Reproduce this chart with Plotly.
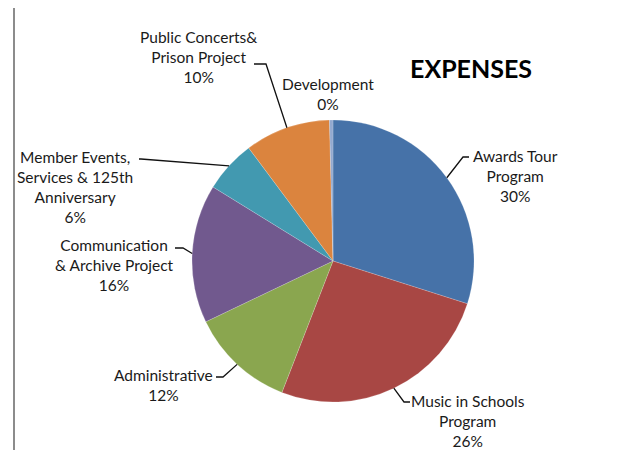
import math
import plotly.graph_objects as go

# ---- data ----
categories = [
    "Awards Tour<br>Program",
    "Music in Schools<br>Program",
    "Administrative",
    "Communication<br>& Archive Project",
    "Member Events,<br>Services & 125th<br>Anniversary",
    "Public Concerts&<br>Prison Project",
    "Development",
]
values = [29.9, 26.0, 12.0, 15.9, 6.0, 9.8, 0.4]
colors = ["#4672A8", "#A84744", "#8AA64F", "#71598E", "#4299B0", "#DB843E", "#93A9CF"]
title_text = "EXPENSES"

# ---- layout constants (pixels, in page coordinates) ----
W, H = 644, 450
OX, OY = 8, 8          # page body margin offset
CX, CY, R = 333, 261, 141
FONT = "Lato"

def px(x):
    return (x - OX) / W

def py(y):
    return 1 - (y - OY) / H

fig = go.Figure(go.Pie(
    labels=categories,
    values=values,
    sort=False,
    direction="clockwise",
    rotation=0,
    textinfo="none",
    hoverinfo="label+percent",
    marker=dict(colors=colors, line=dict(color="rgba(255,255,255,0.35)", width=0.5)),
    domain=dict(x=[px(CX - R), px(CX + R)], y=[py(CY + R), py(CY - R)]),
    showlegend=False,
))

# label placement: (text center x, text center y, leader start, leader elbow)
label_layout = [
    (515, 176, (469, 157), (463, 157)),
    (468, 421, (410, 402), (404, 402)),
    (163, 385, (216, 377), (223, 377)),
    (114, 265, (175, 248), (183, 248)),
    (75, 187, (139, 159), (141, 159)),
    (199, 57, (254, 64), (266, 64)),
    (328, 94, None, None),
]

total = sum(values)
cum = 0.0
annotations = []
shapes = []
for cat, v, (tx, ty, start, elbow) in zip(categories, values, label_layout):
    mid = (cum + v / 2) / total * 2 * math.pi
    cum += v
    ex = CX + R * math.sin(mid)
    ey = CY - R * math.cos(mid)
    pct = round(v / total * 100)
    annotations.append(dict(
        x=px(tx), y=py(ty), xref="paper", yref="paper",
        text=f"{cat}<br>{pct}%", showarrow=False,
        xanchor="center", yanchor="middle", align="center",
        font=dict(family=FONT, size=15.5, color="#1a1a1a"),
    ))
    if start is not None:
        path = (f"M {px(start[0])} {py(start[1])} L {px(elbow[0])} {py(elbow[1])} "
                f"L {px(ex)} {py(ey)}")
        shapes.append(dict(type="path", xref="paper", yref="paper", path=path,
                           line=dict(color="#111111", width=1.3)))

annotations.append(dict(
    x=px(471), y=py(68), xref="paper", yref="paper", text=f"<b>{title_text}</b>",
    showarrow=False, xanchor="center", yanchor="middle",
    font=dict(family=FONT, size=25, color="#000000"),
))

# chart frame (top and left edges visible)
shapes.append(dict(type="line", xref="paper", yref="paper", x0=px(14), x1=1.05,
                   y0=py(5), y1=py(5), line=dict(color="#8c8c8c", width=2)))
shapes.append(dict(type="line", xref="paper", yref="paper", x0=px(14), x1=px(14),
                   y0=py(5), y1=-0.05, line=dict(color="#8c8c8c", width=2)))

fig.update_layout(
    width=W, height=H,
    margin=dict(l=0, r=0, t=0, b=0),
    paper_bgcolor="white", plot_bgcolor="white",
    annotations=annotations, shapes=shapes,
)

fig.write_html("out.html")
